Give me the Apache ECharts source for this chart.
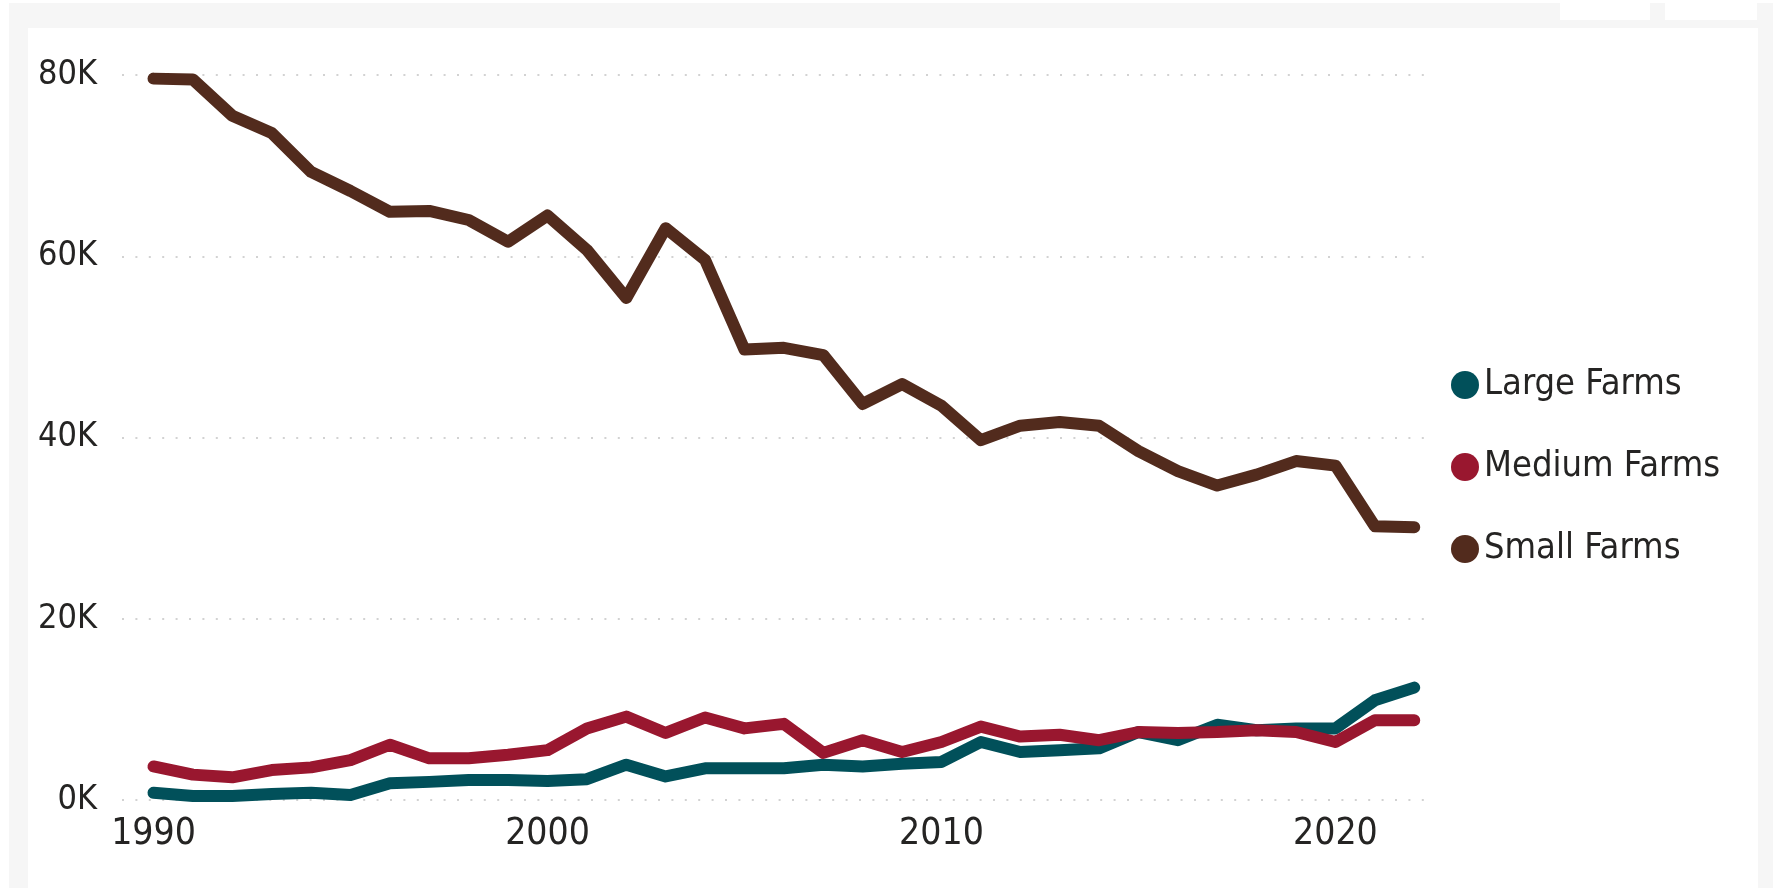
<!DOCTYPE html>
<html>
<head>
    <meta charset="utf-8">
    <title>Farms</title>
    <script src="https://cdn.jsdelivr.net/npm/echarts@6/dist/echarts.min.js"></script>
    <style>
        html, body { margin: 0; padding: 0; background: #ffffff; }
    </style>
</head>
<body>
    <div id="main" style="width: 1773px;height:888px;"></div>
    <script type="text/javascript">
        var years = [1990, 1991, 1992, 1993, 1994, 1995, 1996, 1997, 1998, 1999,
                     2000, 2001, 2002, 2003, 2004, 2005, 2006, 2007, 2008, 2009,
                     2010, 2011, 2012, 2013, 2014, 2015, 2016, 2017, 2018, 2019,
                     2020, 2021, 2022];
        var largeFarms = [800, 450, 450, 650, 800, 550, 1850, 2000, 2200, 2200,
                          2100, 2300, 3900, 2600, 3500, 3500, 3500, 3900, 3700, 4000,
                          4200, 6400, 5300, 5500, 5700, 7500, 6600, 8300, 7700, 7900,
                          7900, 11000, 12400];
        var mediumFarms = [3700, 2800, 2500, 3300, 3600, 4400, 6100, 4600, 4600, 5000,
                           5500, 7900, 9200, 7400, 9100, 7900, 8400, 5200, 6600, 5300,
                           6400, 8100, 7000, 7200, 6600, 7500, 7400, 7500, 7700, 7500,
                           6400, 8800, 8800];
        var smallFarms = [79600, 79500, 75500, 73600, 69300, 67200, 64900, 65000, 64000, 61600,
                          64500, 60700, 55400, 63100, 59600, 49700, 49900, 49100, 43700, 45900,
                          43500, 39700, 41300, 41700, 41300, 38500, 36300, 34700, 35900, 37400,
                          36900, 30200, 30100];
        var xTicks = [1990, 2000, 2010, 2020];

        var font = "'DejaVu Sans Condensed', sans-serif";

        function pairs(vals) {
            return years.map(function (y, i) { return [y, vals[i]]; });
        }

        var myChart = echarts.init(document.getElementById('main'));
        var option = {
            backgroundColor: '#ffffff',
            animation: false,
            graphic: [
                { type: 'rect', z: -10, shape: { x: 9, y: 3, width: 1764, height: 885 }, style: { fill: '#f6f6f6' } },
                { type: 'rect', z: -9, shape: { x: 28, y: 28, width: 1730, height: 860 }, style: { fill: '#ffffff' } },
                { type: 'rect', z: -9, shape: { x: 1560, y: 3, width: 90, height: 17 }, style: { fill: '#ffffff' } },
                { type: 'rect', z: -9, shape: { x: 1665, y: 3, width: 92, height: 17 }, style: { fill: '#ffffff' } }
            ],
            grid: { left: 122, right: 343, top: 75, bottom: 88 },
            legend: {
                orient: 'vertical',
                left: 1446,
                top: 362,
                icon: 'circle',
                itemWidth: 28,
                itemHeight: 28,
                itemGap: 46,
                textStyle: { fontFamily: font, fontSize: 36, color: '#252423' },
                data: ['Large Farms', 'Medium Farms', 'Small Farms']
            },
            xAxis: {
                type: 'value',
                min: 1989.2,
                max: 2022.4,
                axisLine: { show: false },
                axisTick: { show: false },
                splitLine: { show: false },
                axisLabel: {
                    customValues: xTicks,
                    fontFamily: font,
                    fontSize: 37,
                    color: '#252423',
                    margin: 16,
                    formatter: function (v) { return String(v); }
                }
            },
            yAxis: {
                type: 'value',
                min: 0,
                max: 80000,
                interval: 20000,
                axisLine: { show: false },
                axisTick: { show: false },
                axisLabel: {
                    fontFamily: font,
                    fontSize: 34,
                    color: '#252423',
                    margin: 25,
                    formatter: function (v) { return (v / 1000) + 'K'; }
                },
                splitLine: {
                    lineStyle: { color: '#c4c4c4', width: 1.5, type: [2, 11.4] }
                }
            },
            series: [
                {
                    name: 'Large Farms', type: 'line', showSymbol: false,
                    data: pairs(largeFarms),
                    itemStyle: { color: '#01505a' },
                    lineStyle: { width: 12, color: '#01505a', cap: 'round', join: 'round' }
                },
                {
                    name: 'Medium Farms', type: 'line', showSymbol: false,
                    data: pairs(mediumFarms),
                    itemStyle: { color: '#99172f' },
                    lineStyle: { width: 12, color: '#99172f', cap: 'round', join: 'round' }
                },
                {
                    name: 'Small Farms', type: 'line', showSymbol: false,
                    data: pairs(smallFarms),
                    itemStyle: { color: '#522b1d' },
                    lineStyle: { width: 12, color: '#522b1d', cap: 'round', join: 'round' }
                }
            ]
        };
        myChart.setOption(option);
    </script>
</body>
</html>
